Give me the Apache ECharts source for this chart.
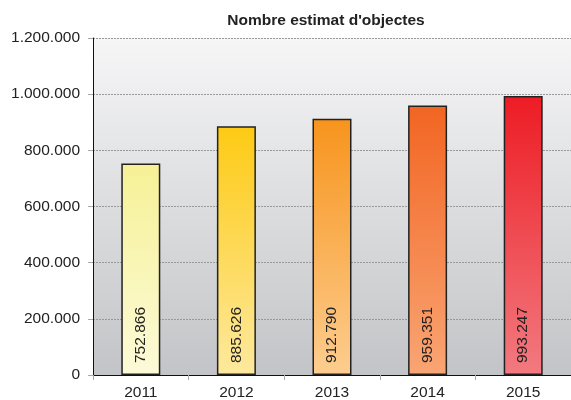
<!DOCTYPE html>
<html><head><meta charset="utf-8">
<script src="https://cdn.jsdelivr.net/npm/echarts@6/dist/echarts.min.js"></script>
<style>html,body{margin:0;padding:0;background:#fff}#c{width:571px;height:400px}</style>
</head><body><div id="c"></div>
<script>
const categories = ['2011','2012','2013','2014','2015'];
const values = [752866, 885626, 912790, 959351, 993247];
const yTicks = [0, 200000, 400000, 600000, 800000, 1000000, 1200000];
const topColors = ['#f6f196','#fdca14','#f7941d','#f26522','#ed1c24'];
const bottomColors = ['#fcfad8','#fde99e','#fdcd8f','#f9a574','#f27a80'];

function fmt(v){ return String(v).replace(/\B(?=(\d{3})+(?!\d))/g,'.'); }

const chart = echarts.init(document.getElementById('c'), null, {renderer:'canvas'});
const font = '"Liberation Sans", Arial, sans-serif';
chart.setOption({
  animation:false,
  textStyle:{fontFamily:font},
  title:{text:"Nombre estimat d'objectes", left:321, top:8, textAlign:'center',
    textStyle:{fontFamily:font, fontSize:15.5, fontWeight:'bold', color:'#222'}},
  grid:{left:93, right:0, top:38, bottom:25, show:true, borderWidth:0, containLabel:false, outerBoundsMode:'none',
    backgroundColor:new echarts.graphic.LinearGradient(0,0,0,1,[{offset:0,color:'#f6f6f7'},{offset:1,color:'#c3c4c7'}])},
  xAxis:{type:'category', data:categories,
    axisLine:{lineStyle:{color:'#111', width:1}},
    axisTick:{show:true, length:5, lineStyle:{color:'#aaa'}},
    axisLabel:{fontSize:15.5, color:'#222', margin:10, fontFamily:font}},
  yAxis:{type:'value', min:yTicks[0], max:yTicks[yTicks.length-1], interval:200000,
    axisLine:{show:true, lineStyle:{color:'#111', width:1}},
    axisTick:{show:true, length:5, lineStyle:{color:'#aaa'}},
    axisLabel:{fontSize:15.5, color:'#222', margin:13, fontFamily:font, formatter:fmt},
    splitLine:{show:true, lineStyle:{color:'#999', type:[2,1], width:1}}},
  series:[{type:'bar', barWidth:39,
    data: values.map((v,i)=>({value:v, itemStyle:{
      color:new echarts.graphic.LinearGradient(0,0,0,1,[{offset:0,color:topColors[i]},{offset:1,color:bottomColors[i]}]),
      borderColor:'#222', borderWidth:1.5}})),
    label:{show:true, position:'insideBottom', rotate:90, align:'left', verticalAlign:'middle',
      distance:12, fontSize:15.5, color:'#222', fontFamily:font, formatter:p=>fmt(p.value)}
  }]
});
</script></body></html>
